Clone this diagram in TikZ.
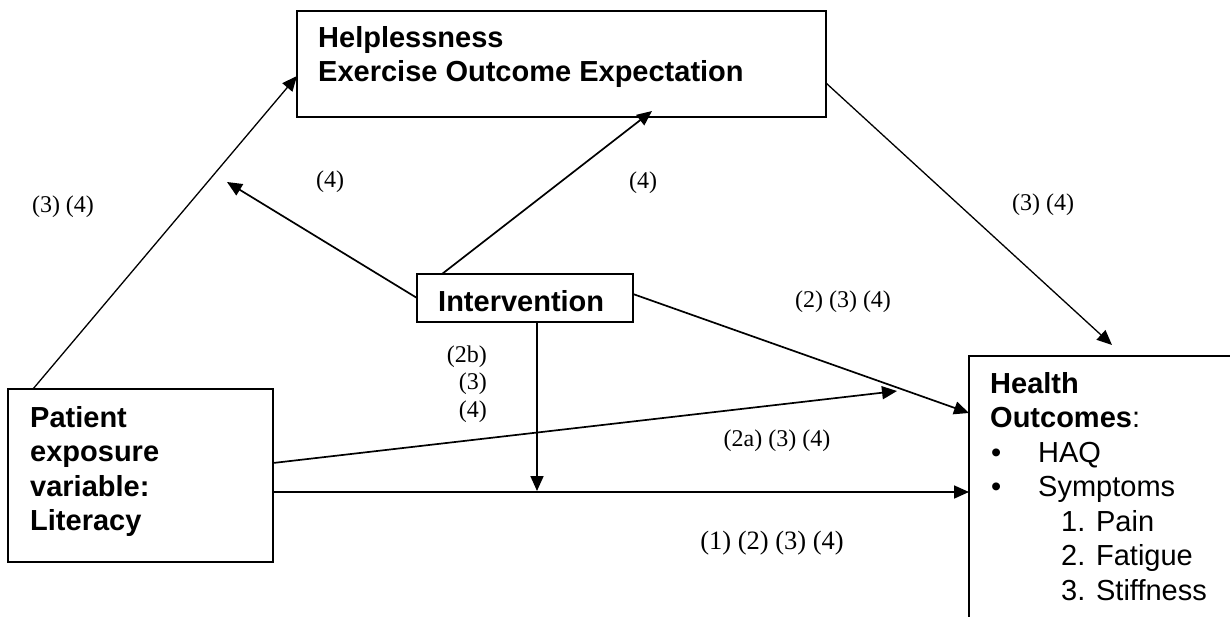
\documentclass[tikz,border=0pt]{standalone}
\usepackage{fontspec}
\setmainfont{Liberation Serif}
\newfontfamily\arialf{Liberation Sans}
\usetikzlibrary{arrows.meta,calc}

\begin{document}
\begin{tikzpicture}[x=1pt,y=-1pt,
  box/.style={draw, line width=1.8pt, inner sep=0pt, outer sep=0pt, anchor=north west},
  link/.style={line width=1.7pt, -{Triangle[length=15pt,width=13pt]}},
  thinlink/.style={link, line width=1.3pt},
  sans/.style={font=\arialf\fontsize{29}{34.5}\selectfont, inner sep=0pt, anchor=base west},
  sansb/.style={sans, font=\arialf\bfseries\fontsize{29}{34.5}\selectfont},
  lbl/.style={font=\fontsize{24}{27.6}\selectfont, inner sep=0pt},
  lblbig/.style={lbl, font=\fontsize{26.5}{30}\selectfont}]

\useasboundingbox (0,0) rectangle (1230,617);
\clip (0,0) rectangle (1230,617);

% boxes
\node[box, minimum width=529pt, minimum height=106pt] (top) at (297,11) {};
\node[box, minimum width=216pt, minimum height=48pt]  (int) at (417,274) {};
\node[box, minimum width=265pt, minimum height=173pt] (pat) at (8,389) {};
\node[box, minimum width=320pt, minimum height=320pt] (hea) at (969,356) {};

% box texts
\node[sansb] (topA) at (318,47.5) {Helplessness};
\node[sansb] (topB) at (318,82) {Exercise Outcome Expectation};

\node[sansb] (intT) at (438,312) {Intervention};

\node[sansb] (patA) at (30,427) {Patient};
\node[sansb] (patB) at (30,461.5) {exposure};
\node[sansb] (patC) at (30,496) {variable:};
\node[sansb] (patD) at (30,530.5) {Literacy};

\node[sansb] (heaA) at (990,393) {Health};
\node[sansb] (heaB) at (990,427.5) {Outcomes\textmd{:}};
\node[sans]  (bulA) at (991,462) {•};
\node[sans]  (heaC) at (1038,462) {HAQ};
\node[sans]  (bulB) at (991,496.5) {•};
\node[sans]  (heaD) at (1038,496.5) {Symptoms};
\node[sans]  (heaE) at (1061,531) {1. Pain};
\node[sans]  (heaF) at (1061,565.5) {2. Fatigue};
\node[sans]  (heaG) at (1061,600) {3. Stiffness};

% free arrow ends
\coordinate (lft)  at (227,182);
\coordinate (mid)  at (897,391);
\coordinate (drop) at (537,491);

% connectors
\draw[thinlink] ($(pat.north west)+(25,0)$) -- ($(top.north west)+(0,65)$);
\draw[link] ($(int.north west)+(0,24)$) -- (lft);
\draw[link] ($(int.north west)+(25,0)$) -- ($(top.south west)+(355,-6)$);
\draw[thinlink] ($(top.north east)+(0,72)$) -- ($(hea.north west)+(143,-11)$);
\draw[link] ($(int.north east)+(0,20)$) -- ($(hea.north west)+(0,57)$);
\draw[link] ($(pat.north east)+(0,74)$) -- (mid);
\draw[link] ($(pat.north east)+(0,103)$) -- ($(hea.north west)+(0,136)$);
\draw[link] ($(int.south west)+(120,0)$) -- (drop);

% path labels
\node[lbl] (l1) at (63,207) {(3) (4)};
\node[lbl] (l2) at (330,182) {(4)};
\node[lbl] (l3) at (643,183) {(4)};
\node[lbl] (l4) at (1043,205) {(3) (4)};
\node[lbl] (l5) at (843,302) {(2) (3) (4)};
\node[lbl] (l6) at (777,441) {(2a) (3) (4)};
\node[lblbig] (l7) at (772,543) {(1) (2) (3) (4)};
\node[lbl, anchor=east] (l8) at (487,357) {(2b)};
\node[lbl, anchor=east] (l9) at (487,384) {(3)};
\node[lbl, anchor=east] (l10) at (487,412) {(4)};
\end{tikzpicture}
\end{document}
